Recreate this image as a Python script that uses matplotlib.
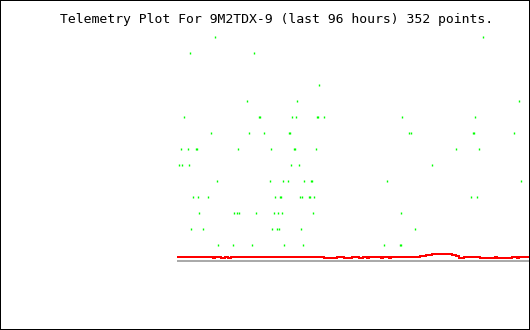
import matplotlib
matplotlib.use("Agg")
import matplotlib.pyplot as plt
from matplotlib.patches import Rectangle

# titel en aantal punten
titel = "Telemetry Plot For 9M2TDX-9 (last 96 hours) 352 points."
n_punten = 352

# groene meetpunten: index (punt nr) per niveau
groen_per_niveau = {
    14: [37, 305],
    13: [12, 76],
    11: [141],
    10: [69, 119, 341],
    9: [6, 81, 82, 114, 118, 139, 140, 146, 224, 297],
    8: [33, 71, 86, 111, 112, 231, 233, 295, 296, 336],
    7: [3, 10, 18, 19, 60, 93, 116, 117, 138, 278, 301],
    6: [1, 4, 11, 113, 121, 254],
    5: [39, 92, 105, 110, 126, 133, 134, 209, 343],
    4: [15, 20, 30, 97, 102, 103, 122, 124, 131, 132, 136, 293, 299],
    3: [21, 56, 59, 61, 78, 96, 100, 104, 135, 223],
    2: [13, 25, 94, 99, 101, 123, 237],
    1: [40, 55, 74, 106, 125, 206, 222, 223],
}

# rode lijn (trap): startindex en niveau
rood_idx = [0, 35, 37, 43, 47, 50, 53, 146, 159, 166, 174, 181, 185, 189, 191,
            203, 205, 211, 213, 242, 248, 254, 270, 274, 278, 281, 286, 302,
            317, 319, 334, 339, 341, 352]
rood_lvl = [0.24, 0.17, 0.24, 0.17, 0.24, 0.17, 0.24, 0.17, 0.24, 0.17, 0.24,
            0.17, 0.24, 0.17, 0.24, 0.17, 0.24, 0.17, 0.24, 0.31, 0.37, 0.43,
            0.39, 0.33, 0.28, 0.17, 0.24, 0.17, 0.24, 0.17, 0.24, 0.17, 0.24,
            0.24]

# grijze nullijn
grijs_idx = [0, 352]
grijs_lvl = [0, 0]

groen_x = []
groen_y = []
for niveau, punten in groen_per_niveau.items():
    groen_x += punten
    groen_y += [niveau] * len(punten)

fig = plt.figure(figsize=(5.3, 3.3), dpi=100)
ax = fig.add_axes([177 / 530, 0, 353 / 530, 1])
ax.set_xlim(-0.5, n_punten + 0.5)
ax.set_ylim(-4.33, 16.29)
ax.axis('off')

ax.plot(grijs_idx, grijs_lvl, color='#aaaaaa', linewidth=1.44, antialiased=False)
ax.step(rood_idx, rood_lvl, where='post', color='#ff0000', linewidth=1.44,
        antialiased=False)
ax.plot(groen_x, groen_y, linestyle='none', marker='|', markersize=1.7,
        markeredgewidth=1.0, color='#00ff00', antialiased=False)

fig.text(60 / 530, 1 - 22.5 / 330, titel, family='DejaVu Sans Mono',
         fontsize=9.45, va='baseline', ha='left')

fig.patches.append(Rectangle((0, 0), 1, 1, transform=fig.transFigure,
                             fill=False, edgecolor='black', linewidth=1.44,
                             zorder=10))

fig.savefig('out.png', dpi=100)
